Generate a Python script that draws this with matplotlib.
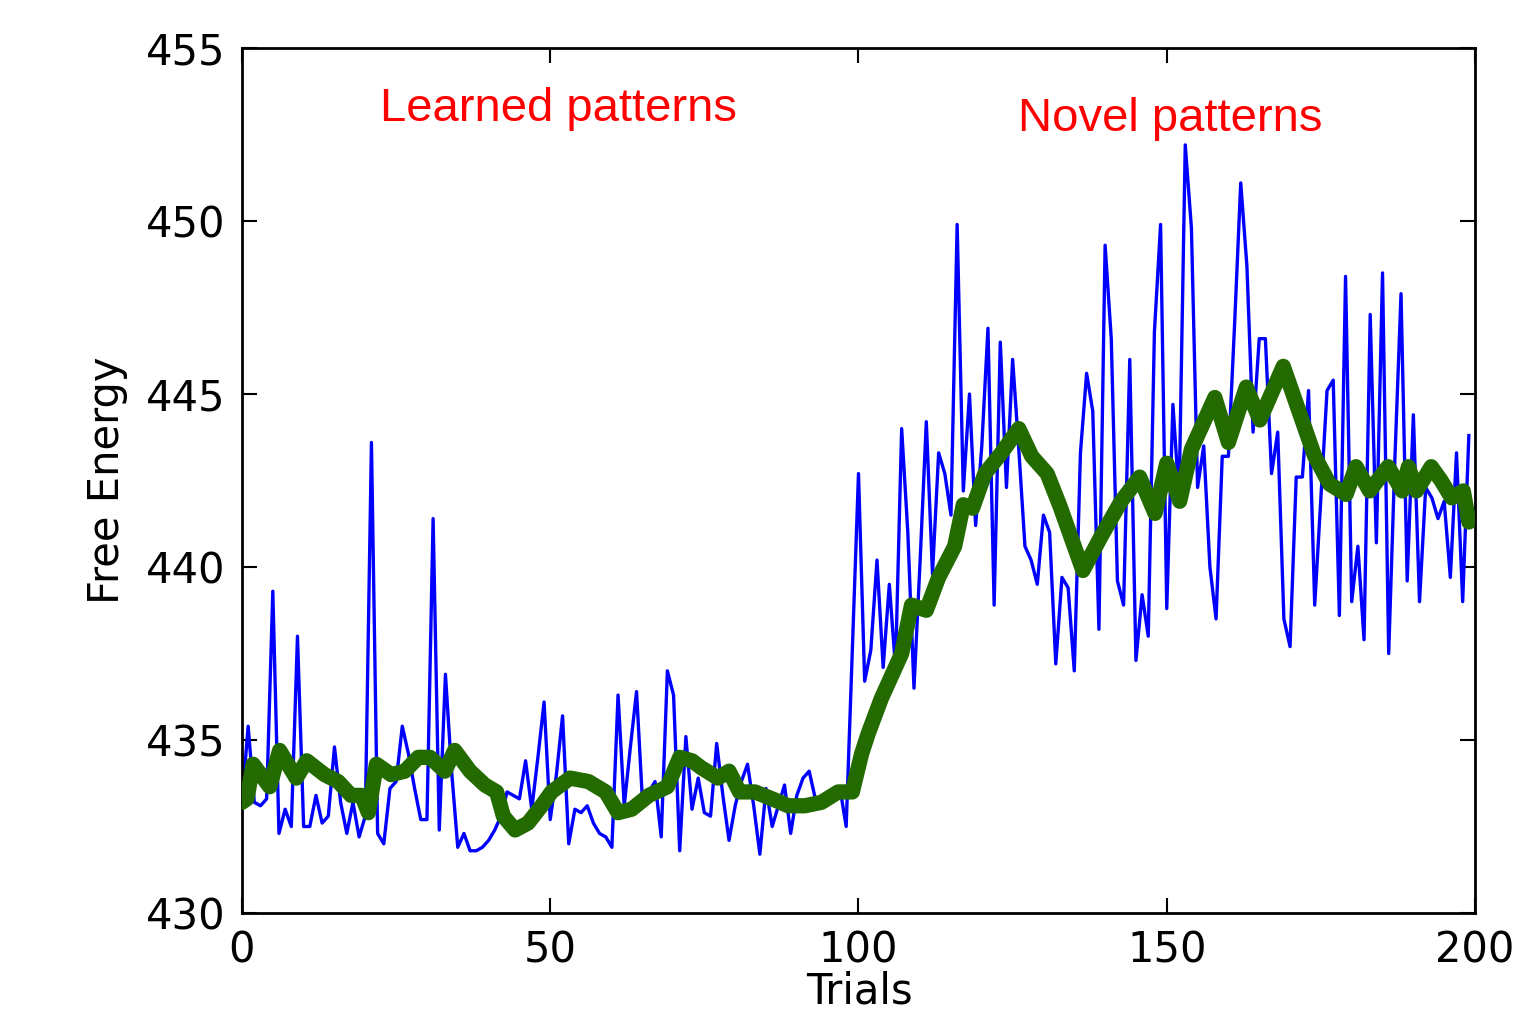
import numpy as np
import matplotlib
matplotlib.use("Agg")
import matplotlib.pyplot as plt

# Free energy per trial (blue trace)
free_energy = [
    433.2, 435.4, 433.2, 433.1, 433.3, 439.3, 432.3, 433.0, 432.5, 438.0,
    432.5, 432.5, 433.4, 432.6, 432.8, 434.8, 433.2, 432.3, 433.2, 432.2,
    432.8, 443.6, 432.3, 432.0, 433.6, 433.8, 435.4, 434.6, 433.6, 432.7,
    432.7, 441.4, 432.4, 436.9, 434.1, 431.9, 432.3, 431.8, 431.8, 431.9,
    432.1, 432.4, 432.8, 433.5, 433.4, 433.3, 434.4, 433.0, 434.5, 436.1,
    432.7, 434.0, 435.7, 432.0, 433.0, 432.9, 433.1, 432.6, 432.3, 432.2,
    431.9, 436.3, 433.1, 434.8, 436.4, 433.1, 433.5, 433.8, 432.2, 437.0,
    436.3, 431.8, 435.1, 433.0, 433.9, 432.9, 432.8, 434.9, 433.4, 432.1,
    433.1, 433.8, 434.3, 433.1, 431.7, 433.6, 432.5, 433.1, 433.7, 432.3,
    433.4, 433.9, 434.1, 433.3, 433.3, 433.4, 433.5, 433.6, 432.5, 437.6,
    442.7, 436.7, 437.6, 440.2, 437.1, 439.5, 437.1, 444.0, 441.0, 436.5,
    440.2, 444.2, 439.8, 443.3, 442.7, 441.5, 449.9, 442.2, 445.0, 441.2,
    443.5, 446.9, 438.9, 446.5, 442.3, 446.0, 443.4, 440.6, 440.2, 439.5,
    441.5, 441.0, 437.2, 439.7, 439.4, 437.0, 443.3, 445.6, 444.5, 438.2,
    449.3, 446.6, 439.6, 438.9, 446.0, 437.3, 439.2, 438.0, 446.8, 449.9,
    438.8, 444.7, 442.0, 452.2, 449.8, 442.3, 443.5, 440.0, 438.5, 443.2,
    443.2, 447.0, 451.1, 448.7, 443.9, 446.6, 446.6, 442.7, 443.9, 438.5,
    437.7, 442.6, 442.6, 445.1, 438.9, 442.0, 445.1, 445.4, 438.6, 448.4,
    439.0, 440.6, 437.9, 447.3, 440.7, 448.5, 437.5, 443.1, 447.9, 439.6,
    444.4, 439.0, 442.3, 442.0, 441.4, 441.9, 439.7, 443.3, 439.0, 443.8,
]
trials = np.arange(len(free_energy))

# smoothed trace (thick green), sampled along the curve
smooth_x = [
    0, 0.8, 1.8, 4.5, 6.1, 8.8, 10.5, 13.4, 15.6, 17.7,
    19.4, 20.5, 21.8, 24.2, 26.4, 28.6, 30.5, 32.9, 34.5, 37,
    39.4, 41.3, 42.4, 44.3, 46.4, 48.6, 50.2, 53.2, 56.2, 59,
    61, 63.2, 66, 69, 71, 73, 74.5, 77.2, 79, 80.7,
    83.2, 86, 88.6, 91.3, 94, 96.7, 99, 100.5, 101.6, 103.7,
    107, 108.6, 111, 113, 115.6, 117, 118.5, 120.5, 123.2, 126,
    128.1, 130.6, 132.7, 136.4, 139.4, 142.6, 145.6, 148.1, 150, 152.1,
    154, 157.8, 160, 162.9, 165.1, 168.9, 174, 176.4, 179.1, 180.7,
    182.9, 185.9, 188.2, 189.2, 190.5, 192.9, 194.5, 196.2, 198.1, 199,
]
smooth_y = [
    433.2, 433.3, 434.3, 433.65, 434.7, 433.9, 434.4, 434.0, 433.8, 433.4,
    433.4, 432.9, 434.3, 434.0, 434.1, 434.5, 434.5, 434.1, 434.7, 434.1,
    433.7, 433.5, 432.8, 432.4, 432.6, 433.1, 433.5, 433.9, 433.8, 433.5,
    432.9, 433.0, 433.4, 433.65, 434.5, 434.4, 434.2, 433.9, 434.1, 433.5,
    433.5, 433.3, 433.1, 433.1, 433.2, 433.5, 433.5, 434.6, 435.2, 436.2,
    437.5, 438.9, 438.75, 439.7, 440.6, 441.8, 441.7, 442.7, 443.3, 444.0,
    443.2, 442.7, 441.75, 439.9, 440.9, 441.9, 442.6, 441.55, 443.0, 441.9,
    443.4, 444.9, 443.6, 445.2, 444.25, 445.8, 443.2, 442.4, 442.1, 442.9,
    442.2, 442.9, 442.2, 442.9, 442.2, 442.9, 442.5, 442.0, 442.2, 441.3,
]

x_ticks = [0, 50, 100, 150, 200]
y_ticks = [430, 435, 440, 445, 450, 455]

fig = plt.figure(figsize=(15.2, 10.11), dpi=100)
ax = fig.add_axes([0.1592, 0.0969, 0.8112, 0.8556])

ax.plot(trials, free_energy, color="blue", lw=2.4, zorder=2)
ax.plot(smooth_x, smooth_y, color="#236b00", lw=11, zorder=3,
        solid_capstyle="round", solid_joinstyle="round")

ax.set_xlim(0, 200)
ax.set_ylim(430, 455)
ax.set_xticks(x_ticks)
ax.set_yticks(y_ticks)
ax.tick_params(direction="in", length=11, width=1.5, labelsize=30,
               top=True, right=True, pad=12)
for s in ax.spines.values():
    s.set_linewidth(2)

ax.set_ylabel("Free Energy", fontsize=30, va="center")
ax.yaxis.set_label_coords(-0.1095, 0.5)
ax.set_xlabel("Trials", fontsize=30, va="top")
ax.xaxis.set_label_coords(0.501, -0.066)

# annotations in red
red_font = ["Liberation Sans", "DejaVu Sans"]
ax.text(22.4, 452.9, "Learned patterns", color="red", fontsize=34,
        family=red_font, ha="left", va="baseline")
ax.text(125.9, 452.6, "Novel patterns", color="red", fontsize=34,
        family=red_font, ha="left", va="baseline")

fig.savefig("out.png", dpi=100)
